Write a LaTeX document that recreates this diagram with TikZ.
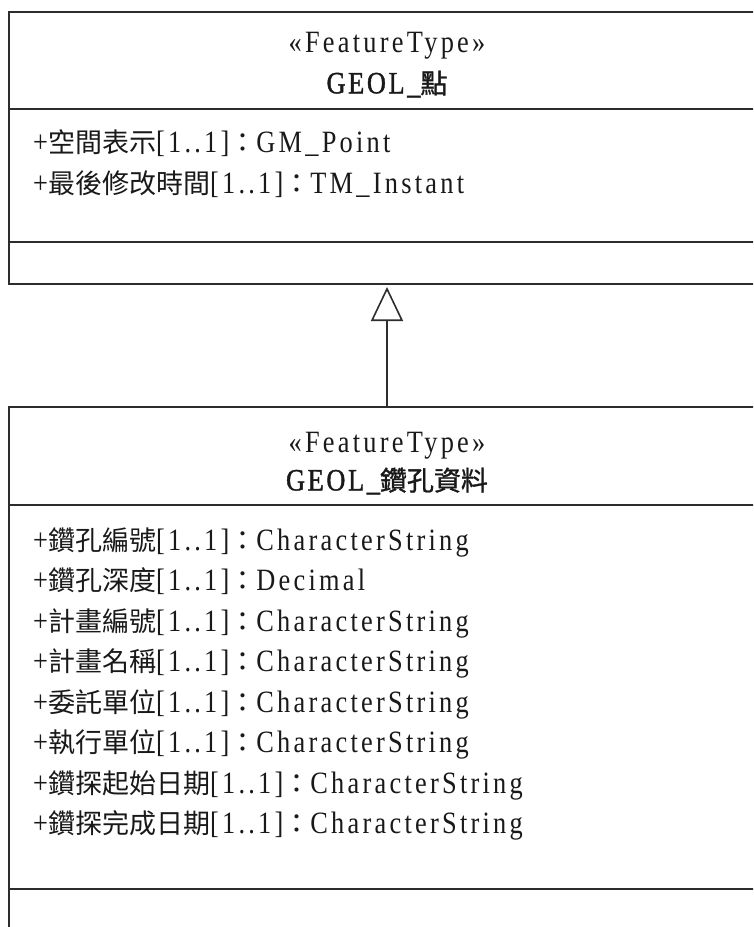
\documentclass[tikz,border=0pt]{standalone}
\usepackage{fontspec}
\usetikzlibrary{arrows.meta}
\newfontfamily\latf[FakeStretch=0.85,LetterSpace=10.5]{Liberation Serif}
\newfontfamily\latbf[FakeStretch=0.85,LetterSpace=8.4,FakeBold=1.3]{Liberation Serif}
\newfontfamily\cjkf{Noto Sans CJK TC}
\newfontfamily\cjkbf[FakeBold=1.2]{Noto Sans CJK TC}
\newcommand\La{\fontsize{31}{31}\latf}
\newcommand\LaB{\fontsize{31}{31}\latbf}
\newcommand\Cj{\fontsize{27}{30}\cjkf}
\newcommand\CjB{\fontsize{27}{30}\cjkbf}
\newcommand\attrib[2]{{\La +}{\Cj #1}{\La [1..1]}{\Cj ：}{\La #2}}
\definecolor{lc}{RGB}{45,45,45}
\definecolor{tc}{RGB}{25,25,25}
\tikzset{
  boxline/.style={line width=1.6pt, draw=lc},
  classbox/.style={boxline, rectangle, inner sep=0pt, outer sep=0pt, minimum width=756pt},
  attr/.style={anchor=base west, inner sep=0pt, text=tc},
  head/.style={inner sep=0pt, text=tc},
}
\begin{document}
\begin{tikzpicture}[x=1pt,y=-1pt]
\useasboundingbox[fill=white] (0,0) rectangle (753,927);
\clip (0,0) rectangle (753,927);
% class boxes
\node[classbox, minimum height=272pt] (topbox) at (387,148) {};
\node[classbox, minimum height=560pt] (botbox) at (387,687) {};
% compartments
\draw[boxline] (9,109) -- (765,109);
\draw[boxline] (9,242) -- (765,242);
\draw[boxline] (9,505) -- (765,505);
\draw[boxline] (9,889) -- (765,889);
% generalization
\draw[boxline, -{Triangle[open, length=34pt, width=32pt]}, shorten >=3pt] (botbox.north) -- (topbox.south);
% top class
\node[head] (st1) at (387,46) {\La «FeatureType»};
\node[head] (nm1) at (387,84) {\LaB GEOL\_{\CjB 點}};
\node[attr] (a1) at (33,152) {\attrib{空間表示}{GM\_Point}};
\node[attr] (a2) at (33,193) {\attrib{最後修改時間}{TM\_Instant}};
% bottom class
\node[head] (st2) at (387,446) {\La «FeatureType»};
\node[head] (nm2) at (387,481) {\LaB GEOL\_{\CjB 鑽孔資料}};
\node[attr] (b1) at (33,550) {\attrib{鑽孔編號}{CharacterString}};
\node[attr] (b2) at (33,590) {\attrib{鑽孔深度}{Decimal}};
\node[attr] (b3) at (33,631) {\attrib{計畫編號}{CharacterString}};
\node[attr] (b4) at (33,671) {\attrib{計畫名稱}{CharacterString}};
\node[attr] (b5) at (33,712) {\attrib{委託單位}{CharacterString}};
\node[attr] (b6) at (33,752) {\attrib{執行單位}{CharacterString}};
\node[attr] (b7) at (33,793) {\attrib{鑽探起始日期}{CharacterString}};
\node[attr] (b8) at (33,833) {\attrib{鑽探完成日期}{CharacterString}};
\end{tikzpicture}
\end{document}
